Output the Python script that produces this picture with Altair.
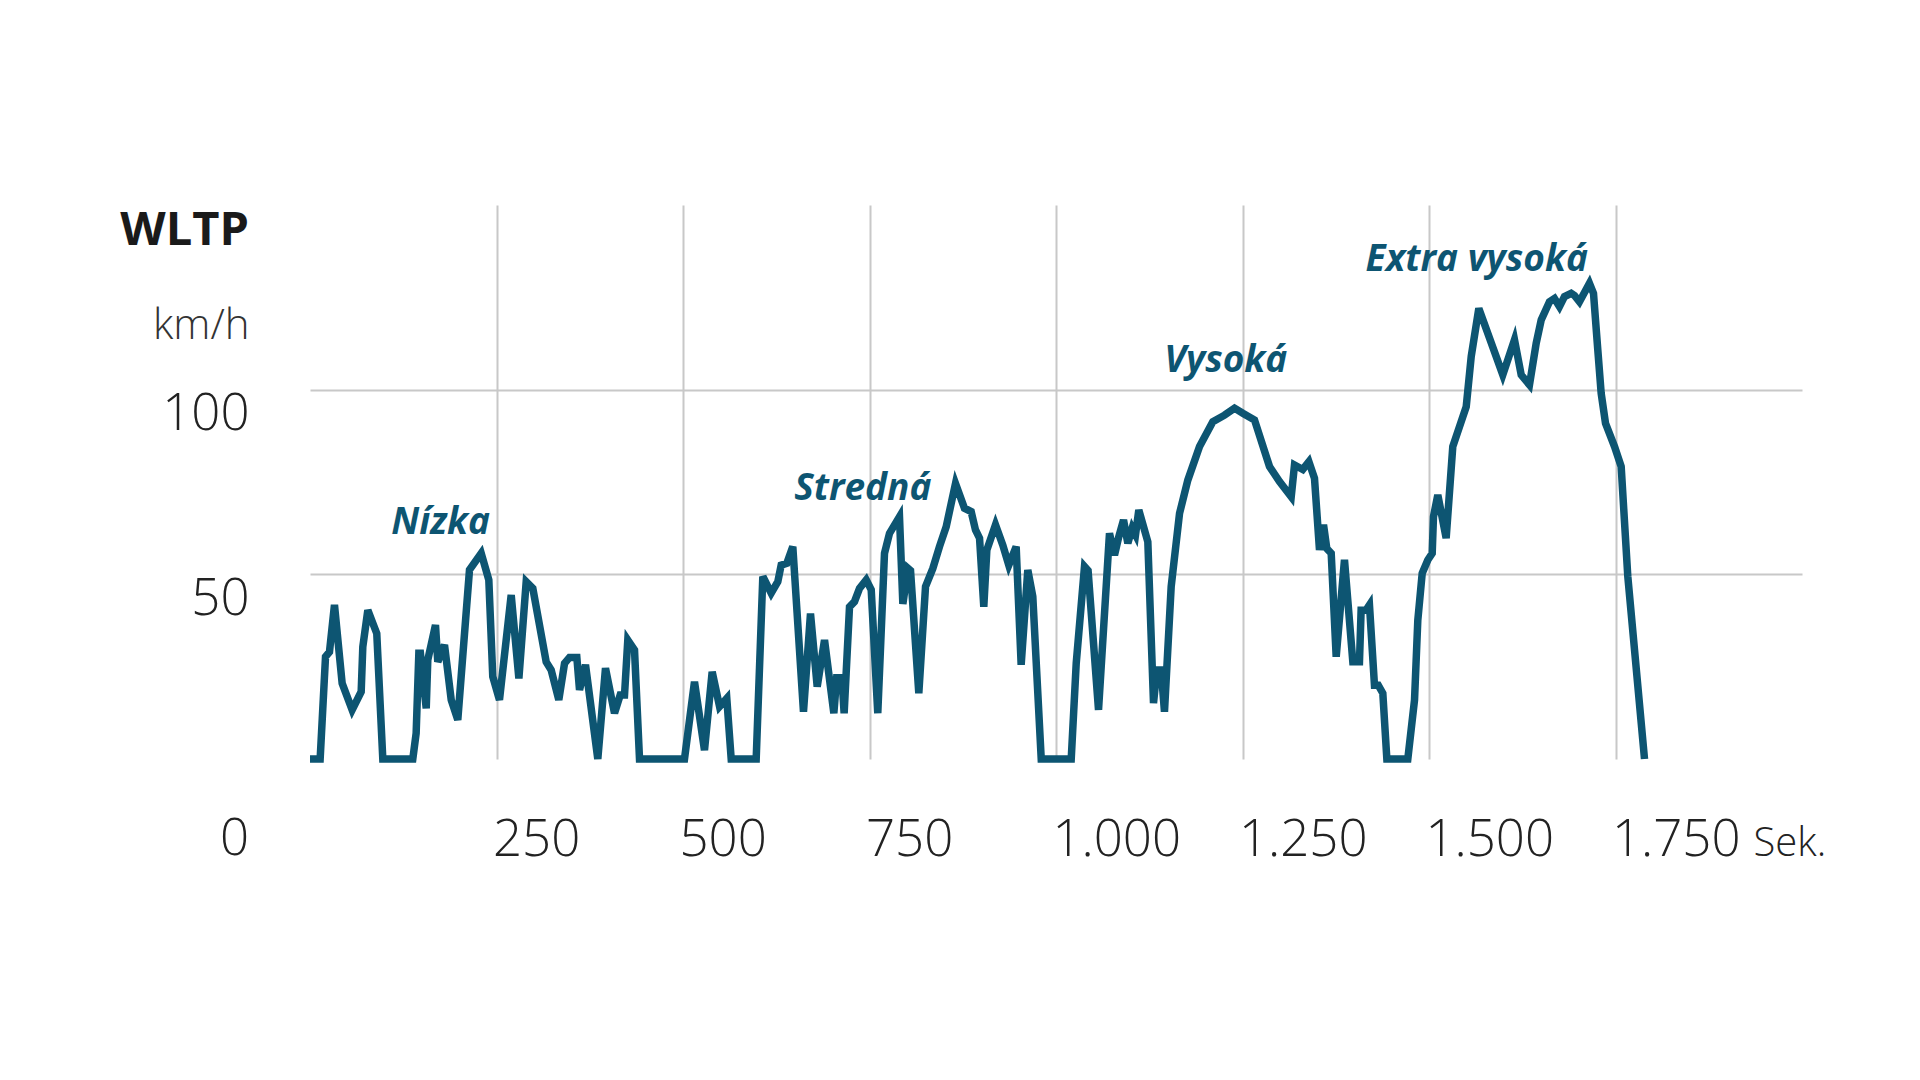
import altair as alt
import pandas as pd

# WLTP speed trace (seconds, km/h)
time_s = [0, 13.6, 20.8, 26.1, 32.8, 43.1, 56.5, 68.6, 70.8, 77.5, 89.5, 97.6, 137.8, 142.3, 145.9,
          148, 155.8, 157.9, 168.2, 171.3, 180.3, 189.3, 198.1, 213.8, 229.5, 239.7, 245, 254,
          269.7, 280, 289.8, 298.7, 316.6, 323.3, 333.5, 341.2, 347.9, 357.7, 361.3, 369.3, 385.8,
          396.1, 408.2, 415.8, 421.6, 426, 435, 441.7, 502, 515.4, 528.8, 539.1, 549, 558.7, 564.6,
          598.1, 607, 618.2, 627.1, 631.6, 639.2, 647.2, 661.5, 670.9, 679.9, 689.7, 702.2, 706,
          713, 716, 723.2, 729.9, 736.6, 745.6, 752.3, 761.1, 770.1, 776.8, 790.2, 794.7, 801.6,
          805, 816.1, 825.1, 834.9, 843.8, 852.8, 865.3, 877.3, 886.3, 892.1, 897.5, 903.2, 907.3,
          918.9, 928.7, 936.7, 946.6, 953.3, 962.2, 968.9, 980.2, 1020.4, 1027.1, 1038.2, 1043,
          1057, 1071.7, 1078.4, 1084.2, 1090.5, 1096.3, 1102.1, 1106.6, 1111, 1123.1, 1130.7,
          1135.2, 1141, 1145.4, 1154.4, 1165.6, 1176.7, 1192.4, 1210.2, 1225.9, 1239.3, 1250.4,
          1266.1, 1286.2, 1299.6, 1315.3, 1319.7, 1330.8, 1339, 1346.5, 1353.2, 1358.6, 1363,
          1368.9, 1375.6, 1386.7, 1397.9, 1406.8, 1409, 1415.7, 1420.2, 1426.9, 1432, 1438.1,
          1443.5, 1471.6, 1480.6, 1485, 1490.9, 1498.4, 1504.3, 1506, 1511.8, 1523, 1531.9,
          1549.9, 1556.6, 1566.8, 1598.9, 1614.6, 1623.6, 1634.7, 1643.7, 1650.4, 1661.5, 1668.2,
          1674.9, 1681.6, 1690.6, 1695, 1701.7, 1715.1, 1720.5, 1726.3, 1730.8, 1736.6, 1748.7,
          1757.6, 1766.5, 1788.9]
speed_kmh = [0, 0, 27.7, 29, 41.7, 20.5, 13.3, 18.2, 30.4, 40.3, 34, 0, 0, 7, 28.6,
             28.6, 13.7, 26.8, 36.3, 26.3, 30.9, 16, 10.6, 51.2, 55.7, 48.5, 22.3, 16,
             44.4, 21.8, 48, 46.2, 26.3, 24.1, 16, 25.9, 27.5, 27.5, 18.7, 25.5, 0,
             24.6, 12.4, 17.3, 17.3, 32.2, 29.5, 0, 0, 20.9, 2.4, 23.6, 14.2, 16.4, 0,
             0, 49.4, 44.9, 48, 52.5, 53, 57.5, 12.8, 39.4, 19.6, 32.2, 12.4, 22,
             22, 12.4, 41.2, 42.6, 46.2, 48.5, 45.8, 12.4, 55.7, 61.1, 65.6, 42, 51.6,
             51, 17.8, 46.7, 51.6, 57.5, 62.9, 74.6, 67.9, 67, 62, 59.8, 41.2, 56.6,
             63.4, 57.9, 52.5, 57.5, 25.5, 51.2, 44, 0, 0, 25.9, 52.1, 51,
             13.3, 61.1, 55.2, 60.2, 64.7, 58.4, 62.5, 60.7, 67.4, 58.8, 15.1,
             24.1, 24.1, 12.8, 46.7, 66.5, 75.5, 84.6, 91.3, 93.1, 95, 93.6,
             91.8, 79.2, 75.1, 71, 79.6, 78.4, 80.5, 76, 56.6, 63.4, 57,
             55.7, 27.7, 53.9, 26.3, 26.3, 40.3, 40.3, 41.7, 20, 20, 17.8,
             0, 0, 16, 37.6, 50.3, 53.9, 55.7, 65.6, 71.5, 59.8, 84.6,
             95.4, 109, 122, 104, 113.5, 104, 101.3, 112.6, 118.9, 123.8, 124.7,
             122.5, 125.2, 126.1, 125.5, 123.8, 128.8, 126.1, 110.7, 99, 90.9, 84.6,
             79.2, 49.4, 0]

x_ticks = [250, 500, 750, 1000, 1250, 1500, 1750]
y_ticks = [0, 50, 100]

phase_names = ["Nízka", "Stredná", "Vysoká", "Extra vysoká"]
phase_t = [109, 649, 1145, 1415]
phase_v = [60.8, 70.1, 104.7, 132.2]

LINE = "#0d5572"
GRID = "#c8c8c8"
TXT = "#222222"
FONT = "Open Sans"

df = pd.DataFrame({"t": time_s, "v": speed_kmh})
phases = pd.DataFrame({"t": phase_t, "v": phase_v, "name": phase_names})
zero = pd.DataFrame({"t": [0], "v": [y_ticks[0]], "label": [str(y_ticks[0])]})

xscale = alt.Scale(domain=[0, 2000], nice=False)
yscale = alt.Scale(domain=[0, 150], nice=False)

xaxis = alt.Axis(
    values=x_ticks, grid=True, gridColor=GRID, gridWidth=2, domain=False, ticks=False,
    tickSize=0, labelAlign="left", labelBaseline="alphabetic", labelPadding=96,
    labelOffset=-4,
    labelFont=FONT, labelFontSize=51, labelFontWeight=300, labelColor=TXT,
    labelExpr="replace(format(datum.value, ','), ',', '.')", labelFlush=False,
    labelOverlap=False,
    title="Sek.", titleX=1443, titleY=96, titleAlign="left", titleBaseline="alphabetic",
    titleFont=FONT, titleFontSize=40, titleFontWeight=300, titleColor=TXT)
yaxis = alt.Axis(
    values=y_ticks[1:], grid=True, gridColor=GRID, gridWidth=2, domain=False, ticks=False,
    tickSize=0, labelAlign="right", labelBaseline="top", labelPadding=61,
    labelFont=FONT, labelFontSize=51, labelFontWeight=300, labelColor=TXT,
    labelFlush=False, labelOverlap=False,
    title="km/h", titleAngle=0, titleX=-61, titleY=133, titleAlign="right",
    titleBaseline="alphabetic", titleFont=FONT, titleFontSize=42, titleFontWeight=300,
    titleColor="#333333")

line = alt.Chart(df).mark_line(color=LINE, strokeWidth=7.5, strokeJoin="miter").encode(
    x=alt.X("t:Q", scale=xscale, axis=xaxis),
    y=alt.Y("v:Q", scale=yscale, axis=yaxis),
)

labels = alt.Chart(phases).mark_text(
    align="left", baseline="alphabetic", font=FONT, fontSize=37, fontWeight="bold",
    fontStyle="italic", color=LINE
).encode(
    x=alt.X("t:Q", scale=xscale, axis=xaxis),
    y=alt.Y("v:Q", scale=yscale, axis=yaxis),
    text="name:N",
)

zero_label = alt.Chart(zero).mark_text(
    align="right", baseline="alphabetic", dx=-61, dy=96, font=FONT, fontSize=51,
    fontWeight=300, color=TXT
).encode(
    x=alt.X("t:Q", scale=xscale, axis=xaxis),
    y=alt.Y("v:Q", scale=yscale, axis=yaxis),
    text="label:N",
)

chart = alt.layer(line, labels, zero_label).properties(
    width=1492, height=554,
    autosize=alt.AutoSizeParams(type="none"),
    padding={"left": 302, "top": 197, "right": 110, "bottom": 313},
    title=alt.TitleParams("WLTP", anchor="start", frame="group", align="right",
                          baseline="alphabetic", dx=-61, dy=87, offset=0, font=FONT,
                          fontSize=47, fontWeight="bold", color="#1a1a1a"),
).configure(background="white").configure_view(stroke="transparent")

chart.save("out.html", embed_options={"renderer": "svg", "actions": False})
